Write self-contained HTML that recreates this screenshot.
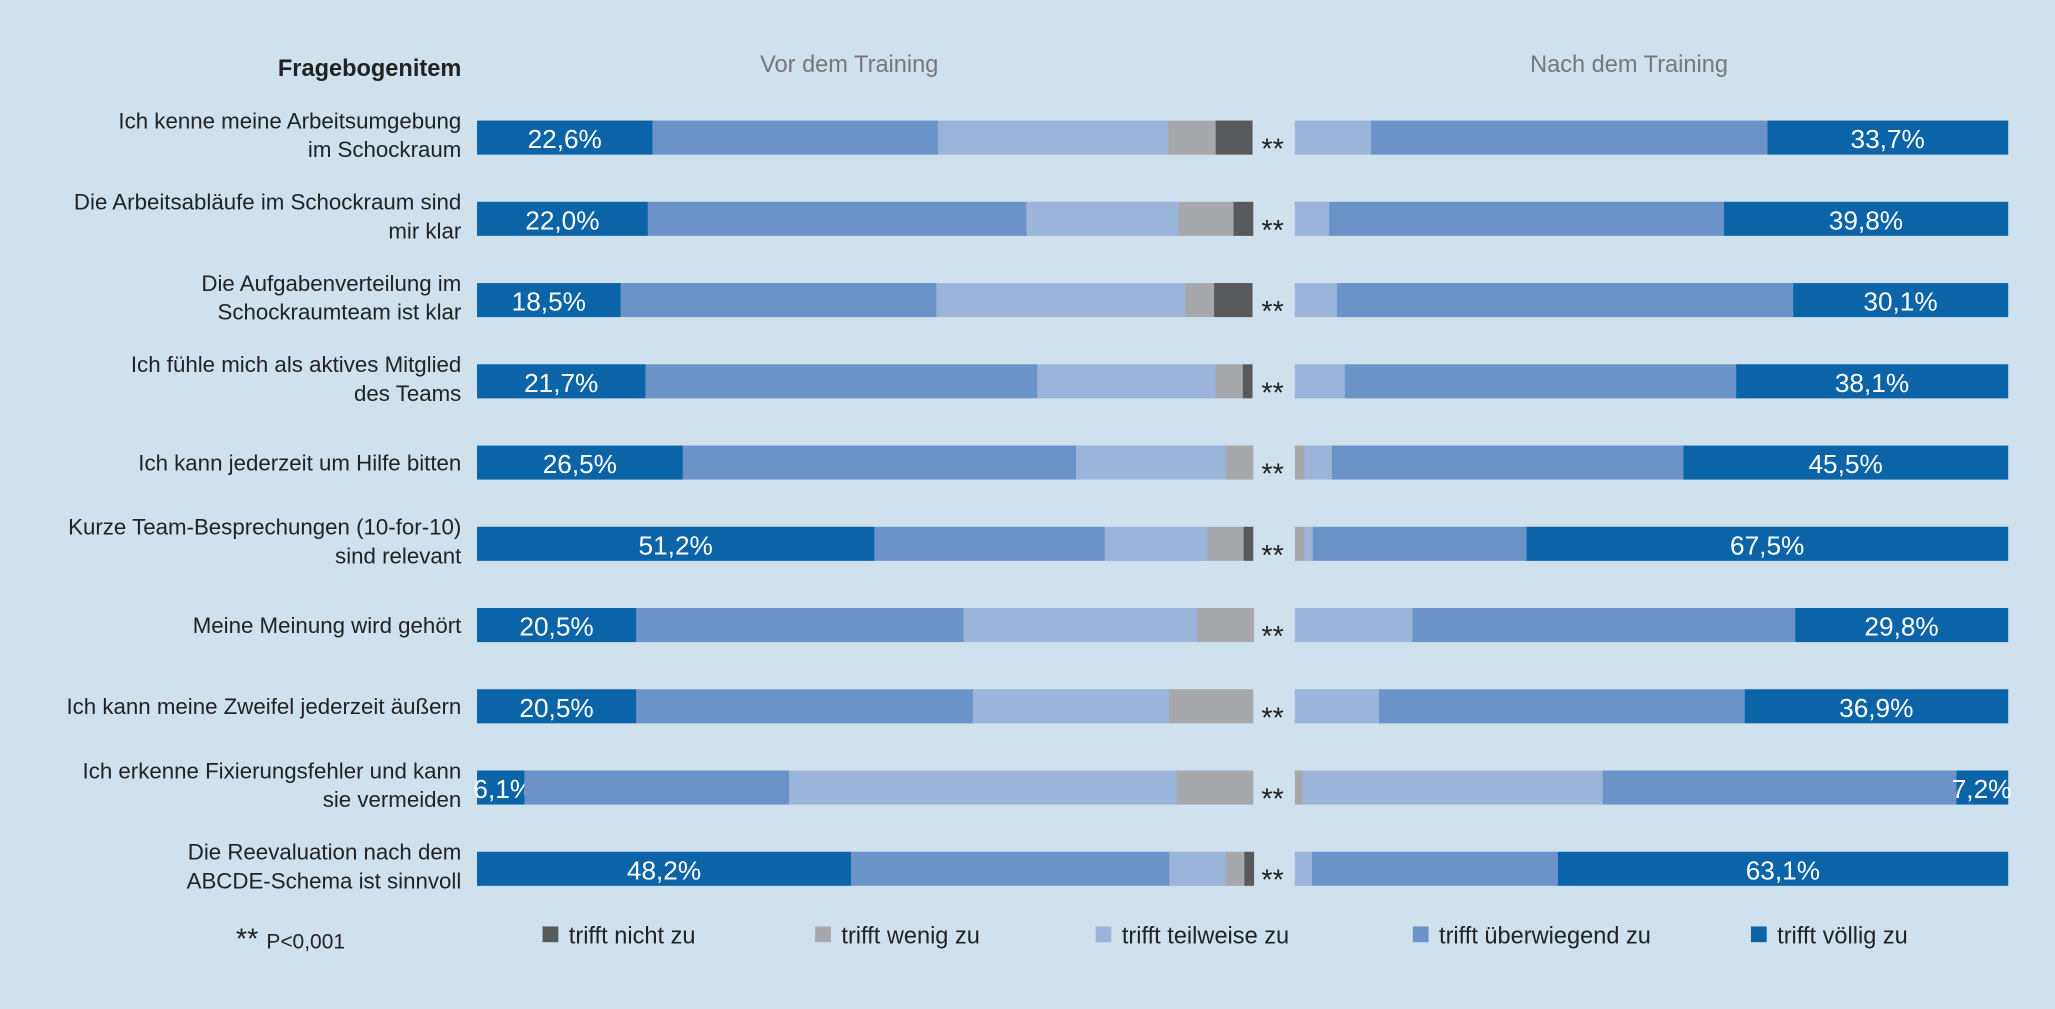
<!DOCTYPE html>
<html><head><meta charset="utf-8">
<style>
body{margin:0;background:#cfe1ed;}
svg{display:block;font-family:"Liberation Sans",sans-serif;}
</style></head>
<body>
<svg id="chart" width="2055" height="1009" viewBox="0 0 1568 770" preserveAspectRatio="none">
<rect width="1568" height="770" fill="#cfe1ed"/>
<text x="352" y="58" text-anchor="end" font-size="18" font-weight="bold" fill="#222">Fragebogenitem</text>
<text x="648" y="55" text-anchor="middle" font-size="18" fill="#777">Vor dem Training</text>
<text x="1243" y="55" text-anchor="middle" font-size="18" fill="#777">Nach dem Training</text>
<g id="rows"></g>
<g id="legend"></g>
<text x="180" y="724" font-size="22" fill="#222">** <tspan font-size="16">P&lt;0,001</tspan></text>
</svg>
<script>
const items=[["Ich kenne meine Arbeitsumgebung","im Schockraum"],["Die Arbeitsabläufe im Schockraum sind","mir klar"],["Die Aufgabenverteilung im","Schockraumteam ist klar"],["Ich fühle mich als aktives Mitglied","des Teams"],["Ich kann jederzeit um Hilfe bitten"],["Kurze Team-Besprechungen (10-for-10)","sind relevant"],["Meine Meinung wird gehört"],["Ich kann meine Zweifel jederzeit äußern"],["Ich erkenne Fixierungsfehler und kann","sie vermeiden"],["Die Reevaluation nach dem","ABCDE-Schema ist sinnvoll"]];
const categories=["trifft nicht zu","trifft wenig zu","trifft teilweise zu","trifft überwiegend zu","trifft völlig zu"];
// values per item: [nicht, wenig, teilweise, überwiegend, völlig]
const before=[[4.7,6.1,29.7,36.8,22.6],[2.5,7.1,19.6,48.8,22.0],[4.9,3.7,32.1,40.7,18.5],[1.2,3.5,23.0,50.5,21.7],[0,3.5,19.3,50.7,26.5],[1.2,4.7,13.2,29.7,51.2],[0,7.3,30.1,42.2,20.5],[0,10.8,25.3,43.4,20.5],[0,9.8,50.0,34.1,6.1],[1.2,2.4,7.3,41.0,48.2]];
const after=[[0,0,10.7,55.6,33.7],[0,0,4.8,55.4,39.8],[0,0,5.9,64.0,30.1],[0,0,7.0,54.9,38.1],[0,1.3,3.9,49.3,45.5],[0,1.3,1.2,30.0,67.5],[0,0,16.5,53.7,29.8],[0,0,11.8,51.3,36.9],[0,1.1,42.1,49.6,7.2],[0,0,2.4,34.5,63.1]];
const colors=["#58595b","#a6a8ab","#9bb4da","#6c93c8","#0b63a8"];
const NS="http://www.w3.org/2000/svg";
const g=document.getElementById("rows");
function el(t,a,p){const e=document.createElementNS(NS,t);for(const k in a)e.setAttribute(k,a[k]);(p||g).appendChild(e);return e;}
const L0=364,LW=592,R0=988,RW=544,Y0=105,DY=62,BH=26;
const xL=v=>v/100*LW, xR=v=>v/100*RW;
const fmt=v=>v.toFixed(1).replace(".",",")+"%";
items.forEach((lines,i)=>{
  const cy=Y0+i*DY;
  const t=el("text",{x:352,"text-anchor":"end","font-size":17,fill:"#222"});
  
  
  lines.forEach((ln,j)=>{const s=el("tspan",{x:352,y:lines.length==1?cy+6:cy-7+j*22},t);s.textContent=ln;});
  let x=L0;
  for(let k=4;k>=0;k--){const w=xL(before[i][k]);if(w>0){const r=el("rect",{x:x,y:cy-BH/2,width:w+0.3,height:BH,fill:colors[k]});
    
    }
    if(k==4){const tt=el("text",{x:Math.max(x+w/2,x+20),y:cy+8,"text-anchor":"middle","font-size":20,fill:"#fff"});tt.textContent=fmt(before[i][4]);
      
      }
    x+=w;}
  x=R0;
  for(let k=0;k<5;k++){const w=xR(after[i][k]);if(w>0){const r=el("rect",{x:x,y:cy-BH/2,width:w+0.3,height:BH,fill:colors[k]});
    
    }
    if(k==4){const tt=el("text",{x:Math.min(x+w/2,R0+RW-20),y:cy+8,"text-anchor":"middle","font-size":20,fill:"#fff"});tt.textContent=fmt(after[i][4]);
      
      }
    x+=w;}
  const st=el("text",{x:971,y:cy+16,"text-anchor":"middle","font-size":22,fill:"#222"});st.textContent="**";
  
  
});
const lg=document.getElementById("legend");
const lx=[414,622,836,1078,1336];
categories.forEach((c,k)=>{
  const r=el("rect",{x:lx[k],y:707,width:12,height:12,fill:colors[k]},lg);
  
  
  const t=el("text",{x:lx[k]+20,y:720,"font-size":18,fill:"#222"},lg);t.textContent=c;
  
  
});
</script>
</body></html>
